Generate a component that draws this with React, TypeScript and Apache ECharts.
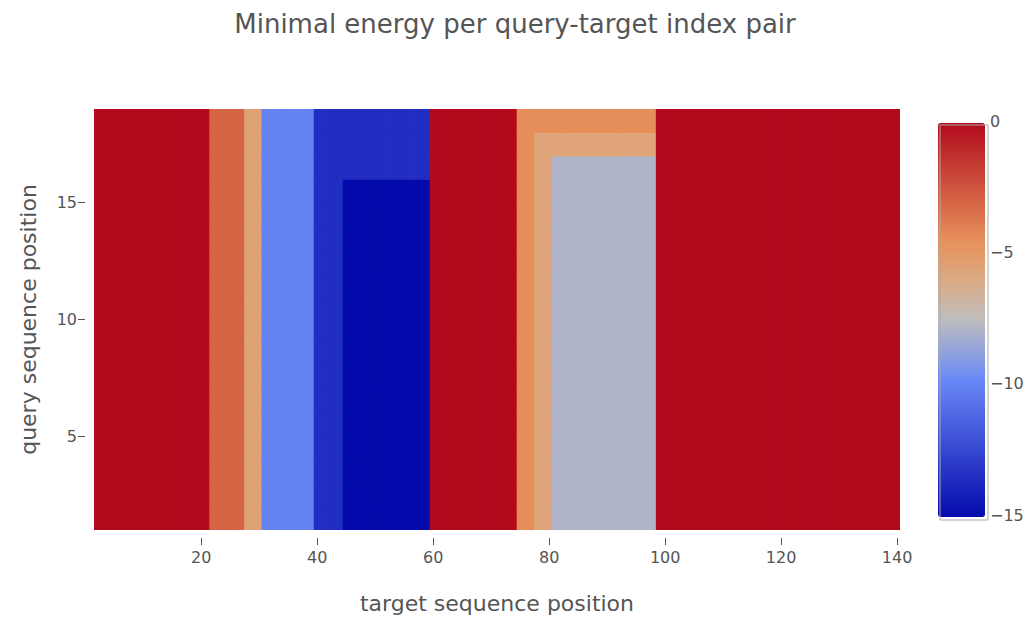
import React, { useEffect, useRef } from "react";
import * as echarts from "echarts";

// Column blocks of the target sequence (inclusive start/end positions)
const blockStart = [2, 22, 28, 31, 40, 45, 60, 75, 78, 81, 99];
const blockEnd = [21, 27, 30, 39, 44, 59, 74, 77, 80, 98, 140];

// Minimal energy per query position (rows 1..18, bottom to top) for each block
const blockEnergy: number[][] = [
  [0, 0, 0, 0, 0, 0, 0, 0, 0, 0, 0, 0, 0, 0, 0, 0, 0, 0],
  [-3, -3, -3, -3, -3, -3, -3, -3, -3, -3, -3, -3, -3, -3, -3, -3, -3, -3],
  [-5.5, -5.5, -5.5, -5.5, -5.5, -5.5, -5.5, -5.5, -5.5, -5.5, -5.5, -5.5, -5.5, -5.5, -5.5, -5.5, -5.5, -5.5],
  [-10, -10, -10, -10, -10, -10, -10, -10, -10, -10, -10, -10, -10, -10, -10, -10, -10, -10],
  [-13.5, -13.5, -13.5, -13.5, -13.5, -13.5, -13.5, -13.5, -13.5, -13.5, -13.5, -13.5, -13.5, -13.5, -13.5, -13.5, -13.5, -13.5],
  [-15, -15, -15, -15, -15, -15, -15, -15, -15, -15, -15, -15, -15, -15, -15, -13.5, -13.5, -13.5],
  [0, 0, 0, 0, 0, 0, 0, 0, 0, 0, 0, 0, 0, 0, 0, 0, 0, 0],
  [-4.4, -4.4, -4.4, -4.4, -4.4, -4.4, -4.4, -4.4, -4.4, -4.4, -4.4, -4.4, -4.4, -4.4, -4.4, -4.4, -4.4, -4.4],
  [-5.6, -5.6, -5.6, -5.6, -5.6, -5.6, -5.6, -5.6, -5.6, -5.6, -5.6, -5.6, -5.6, -5.6, -5.6, -5.6, -5.6, -4.4],
  [-7.9, -7.9, -7.9, -7.9, -7.9, -7.9, -7.9, -7.9, -7.9, -7.9, -7.9, -7.9, -7.9, -7.9, -7.9, -7.9, -5.6, -4.4],
  [0, 0, 0, 0, 0, 0, 0, 0, 0, 0, 0, 0, 0, 0, 0, 0, 0, 0],
];

const yTicks = [5, 10, 15];
const xTicks = [20, 40, 60, 80, 100, 120, 140];
const colorbarTicks = [0, -5, -10, -15];
const energyMin = -15;
const energyMax = 0;

// RdBu colour scale: [fraction, rgb]
const scaleStops: [number, number[]][] = [
  [0, [5, 10, 172]],
  [0.35, [106, 137, 247]],
  [0.5, [190, 190, 190]],
  [0.6, [220, 170, 132]],
  [0.7, [230, 145, 90]],
  [1, [178, 10, 28]],
];

function scaleColor(t: number): string {
  for (let i = 1; i < scaleStops.length; i++) {
    const [t1, c1] = scaleStops[i];
    const [t0, c0] = scaleStops[i - 1];
    if (t <= t1 + 1e-9) {
      const f = (t - t0) / (t1 - t0);
      const c = c0.map((v, k) => Math.round(v + (c1[k] - v) * f));
      return `rgb(${c[0]},${c[1]},${c[2]})`;
    }
  }
  const last = scaleStops[scaleStops.length - 1][1];
  return `rgb(${last[0]},${last[1]},${last[2]})`;
}

const rampColors: string[] = [];
for (let i = 0; i <= 20; i++) rampColors.push(scaleColor(i / 20));

const FONT = "'DejaVu Sans', Verdana, sans-serif";
const TEXT = "#555";

// Colorbar geometry
const CB_LEFT = 938;
const CB_TOP = 123;
const CB_W = 47;
const CB_H = 394;

export default function App() {
  const ref = useRef<HTMLDivElement>(null);

  useEffect(() => {
    if (!ref.current) return;
    const chart = echarts.init(ref.current, undefined, { renderer: "svg" });

    const cells: number[][] = [];
    blockStart.forEach((s, b) => {
      for (let x = s; x <= blockEnd[b]; x++) {
        blockEnergy[b].forEach((v, r) => cells.push([x, r + 1, v]));
      }
    });

    const cbLabels = colorbarTicks.map((v) => ({
      type: "text",
      left: CB_LEFT + CB_W + 5,
      top: CB_TOP + ((energyMax - v) / (energyMax - energyMin)) * CB_H - 10,
      style: {
        text: v < 0 ? "\u2212" + Math.abs(v) : String(v),
        fill: TEXT,
        font: `16px ${FONT}`,
      },
    }));

    chart.setOption({
      animation: false,
      title: {
        text: "Minimal energy per query-target index pair",
        left: "center",
        top: 6,
        textStyle: { fontFamily: FONT, fontSize: 26, fontWeight: "normal", color: TEXT },
      },
      grid: { left: 94, right: 130, top: 109, bottom: 87 },
      xAxis: {
        type: "value",
        min: 1.5,
        max: 140.5,
        offset: 8,
        name: "target sequence position",
        nameLocation: "middle",
        nameGap: 54,
        nameTextStyle: { fontFamily: FONT, fontSize: 22, color: TEXT },
        axisLine: { show: false },
        splitLine: { show: false },
        axisTick: { show: true, length: 7, lineStyle: { color: TEXT }, customValues: xTicks },
        axisLabel: { fontFamily: FONT, fontSize: 16, color: TEXT, margin: 11, customValues: xTicks },
      },
      yAxis: {
        type: "value",
        min: 1,
        max: 19,
        offset: 9,
        name: "query sequence position",
        nameLocation: "middle",
        nameGap: 46,
        nameTextStyle: { fontFamily: FONT, fontSize: 22, color: TEXT },
        axisLine: { show: false },
        splitLine: { show: false },
        axisTick: { show: true, length: 7, lineStyle: { color: TEXT }, customValues: yTicks },
        axisLabel: { fontFamily: FONT, fontSize: 16, color: TEXT, margin: 8, customValues: yTicks },
      },
      visualMap: {
        type: "continuous",
        min: energyMin,
        max: energyMax,
        dimension: 2,
        seriesIndex: 0,
        calculable: false,
        show: true,
        left: CB_LEFT,
        top: CB_TOP,
        padding: 0,
        itemWidth: CB_W,
        itemHeight: CB_H,
        text: ["", ""],
        showLabel: false,
        inRange: { color: rampColors },
      },
      graphic: [
        {
          type: "rect",
          left: CB_LEFT - 0.5,
          top: CB_TOP - 0.5,
          shape: { width: CB_W + 1, height: CB_H + 1 },
          style: { fill: "none", stroke: "#aaa", lineWidth: 1 },
          silent: true,
          z: 100,
        },
        ...cbLabels,
      ],
      series: [
        {
          type: "custom",
          encode: { x: 0, y: 1 },
          data: cells,
          clip: true,
          renderItem: (params: any, api: any) => {
            const x = api.value(0);
            const q = api.value(1);
            const p0 = api.coord([x - 0.5, q + 1]);
            const p1 = api.coord([x + 0.5, q]);
            const color = api.visual("color");
            return {
              type: "rect",
              shape: { x: p0[0], y: p0[1], width: p1[0] - p0[0], height: p1[1] - p0[1] },
              style: { fill: color, stroke: color, lineWidth: 1.2 },
            };
          },
        },
      ],
    });

    return () => chart.dispose();
  }, []);

  return (
    <div
      ref={ref}
      style={{ position: "fixed", left: 0, top: 0, width: 1030, height: 619, background: "#fff" }}
    />
  );
}
